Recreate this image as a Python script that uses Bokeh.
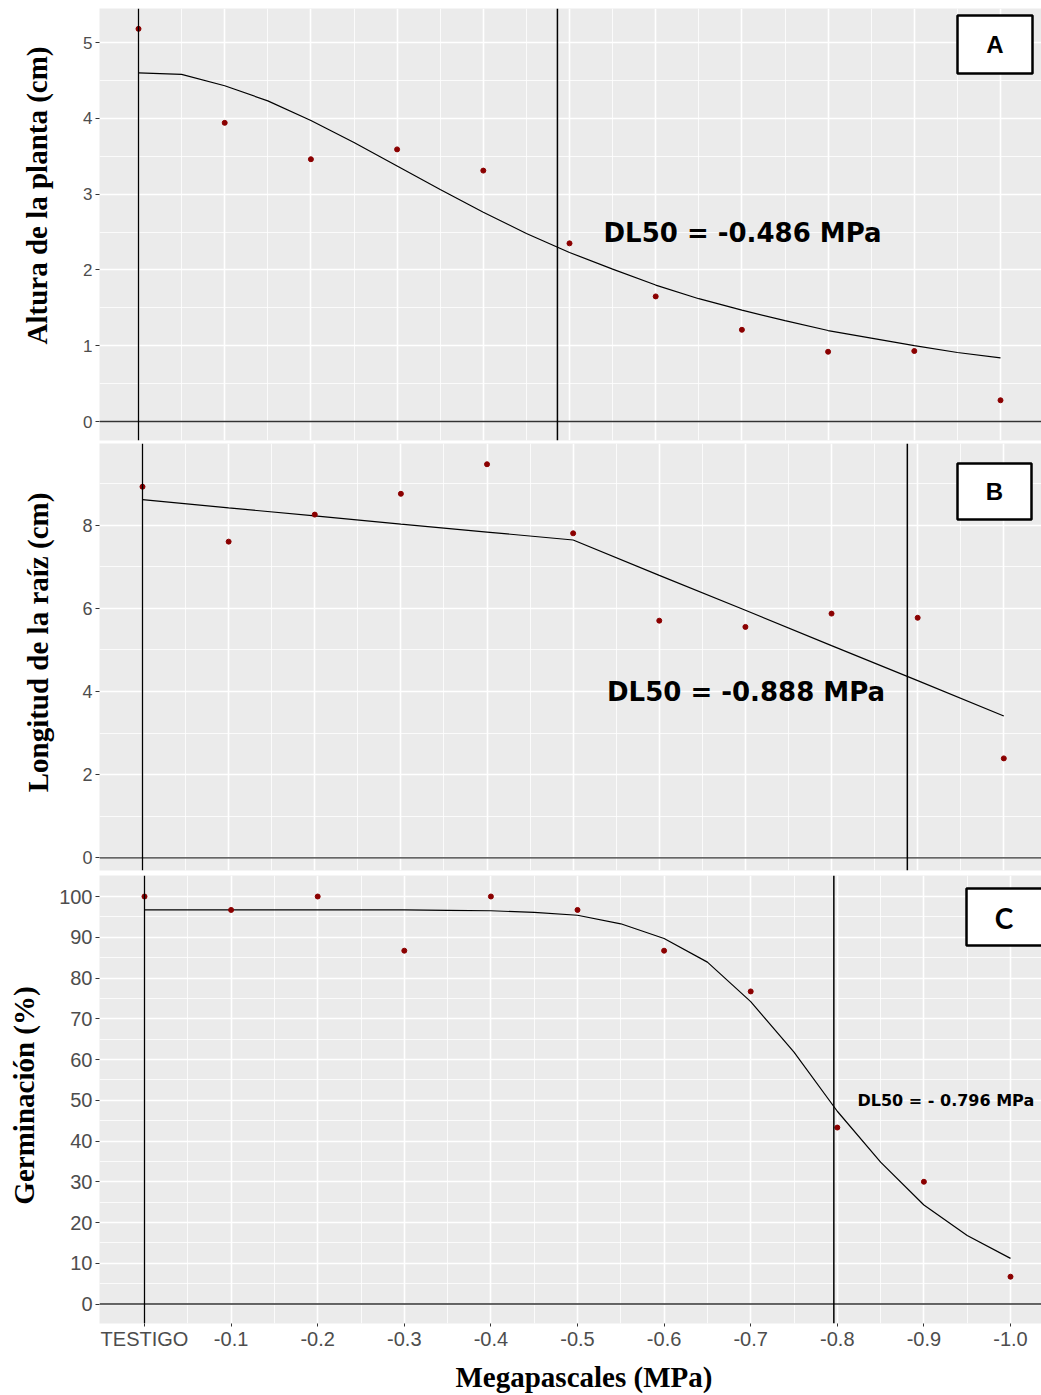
import math
from bokeh.plotting import figure
from bokeh.models import FixedTicker, Range1d, Label, BoxAnnotation, Span
from bokeh.layouts import column, row
from bokeh.embed import file_html
from bokeh.resources import INLINE

# ---------------- data ----------------
x_labels = ["TESTIGO", "-0.1", "-0.2", "-0.3", "-0.4", "-0.5",
            "-0.6", "-0.7", "-0.8", "-0.9", "-1.0"]
x_pos = [0, 1, 2, 3, 4, 5, 6, 7, 8, 9, 10]
fit_x = [0, 0.5, 1, 1.5, 2, 2.5, 3, 3.5, 4, 4.5, 5, 5.5, 6, 6.5, 7, 7.5,
         8, 8.5, 9, 9.5, 10]

altura = [5.18, 3.94, 3.46, 3.59, 3.31, 2.35, 1.65, 1.21, 0.92, 0.93, 0.28]
altura_fit = [4.60, 4.58, 4.43, 4.23, 3.97, 3.68, 3.37, 3.06, 2.76, 2.48, 2.23,
              2.01, 1.80, 1.62, 1.47, 1.33, 1.20, 1.10, 1.00, 0.91, 0.84]

raiz = [8.92, 7.60, 8.25, 8.75, 9.46, 7.80, 5.70, 5.55, 5.87, 5.77, 2.39]
raiz_fit = [8.61, 8.41, 8.22, 8.02, 7.83, 7.64, 6.79, 5.95, 5.10, 4.26, 3.41]

germ = [100, 96.7, 100, 86.7, 100, 96.7, 86.7, 76.7, 43.3, 30.0, 6.7]
germ_fit = [96.7, 96.7, 96.7, 96.7, 96.7, 96.7, 96.7, 96.6, 96.5, 96.1, 95.4,
            93.3, 89.7, 83.9, 74.2, 61.8, 47.3, 34.8, 24.3, 16.8, 11.2]

dl50 = [-0.486, -0.888, -0.796]
dl50_text = ["DL50 = -0.486 MPa", "DL50 = -0.888 MPa", "DL50 = - 0.796 MPa"]
letters = ["A", "B", "C"]
y_titles = ["Altura de la planta (cm)", "Longitud de la raíz (cm)", "Germinación (%)"]
x_title = "Megapascales (MPa)"

y_ticks_a = [0, 1, 2, 3, 4, 5]
y_minor_a = [0.5, 1.5, 2.5, 3.5, 4.5]
y_ticks_b = [0, 2, 4, 6, 8]
y_minor_b = [1, 3, 5, 7, 9]
y_ticks_c = [0, 10, 20, 30, 40, 50, 60, 70, 80, 90, 100]
y_minor_c = [5, 15, 25, 35, 45, 55, 65, 75, 85, 95]

# ---------------- styling / layout ----------------
BG = "#EBEBEB"
TICK_COL = "#4D4D4D"
PT_COL = "#8B0000"
PAGE_W = 1041
PAGE_H = 1394
LEFT_W = 56            # strip holding the rotated y titles
FRAME_LEFT = 99        # page x of the plotting frames
TITLE_FONT = "Liberation Serif"
XTITLE_TOP = 1352      # page y where the x-title strip starts


def make_panel(cfg):
    fig_top, fig_bottom = cfg["fig_top"], cfg["fig_bottom"]
    frame_top, frame_bottom = cfg["frame_top"], cfg["frame_bottom"]
    x0, xu, y0, yu = cfg["x0"], cfg["xu"], cfg["y0"], cfg["yu"]

    def px(v):
        return (v - x0) / xu

    def py(v):
        return (y0 - v) / yu

    p = figure(width=PAGE_W - LEFT_W, height=fig_bottom - fig_top,
               output_backend="svg", toolbar_location=None,
               x_range=Range1d(px(FRAME_LEFT), px(PAGE_W)),
               y_range=Range1d(py(frame_bottom), py(frame_top)),
               min_border_left=FRAME_LEFT - LEFT_W, min_border_right=0,
               min_border_top=frame_top - fig_top,
               min_border_bottom=fig_bottom - frame_bottom)
    p.background_fill_color = BG
    p.border_fill_color = "white"
    p.outline_line_color = None

    xt = FixedTicker(ticks=x_pos, minor_ticks=[v + 0.5 for v in x_pos])
    yt = FixedTicker(ticks=cfg["yticks"], minor_ticks=cfg["yminor"])
    p.xaxis.ticker = xt
    p.yaxis.ticker = yt
    p.xgrid.ticker = xt
    p.ygrid.ticker = yt
    for g in (p.xgrid, p.ygrid):
        g.grid_line_color = "white"
        g.grid_line_width = 1.6
        g.minor_grid_line_color = "white"
        g.minor_grid_line_width = 0.8

    for ax in (p.xaxis, p.yaxis):
        ax.axis_line_color = None
        ax.major_tick_line_color = "#333333"
        ax.major_tick_in = 0
        ax.major_tick_out = 4
        ax.minor_tick_line_color = None
        ax.major_label_text_color = TICK_COL
        ax.major_label_text_font = "Liberation Sans"
        ax.major_label_text_font_size = cfg["tick_size"]
        ax.major_label_standoff = 3
    p.xaxis.major_tick_out = 3
    p.xaxis.major_label_standoff = 0
    p.xaxis.major_label_overrides = {v: l for v, l in zip(x_pos, x_labels)}
    if not cfg["show_x"]:
        p.xaxis.visible = False

    # reference lines
    p.add_layout(Span(location=0, dimension="width", line_color="#333333",
                      line_width=1.3))
    p.add_layout(Span(location=0, dimension="height", line_color="black",
                      line_width=1.3))
    p.add_layout(Span(location=abs(cfg["dl50"]) * 10, dimension="height",
                      line_color="black", line_width=1.5))

    # fitted curve and observations
    p.line(cfg["fx"], cfg["fy"], line_color="black", line_width=1.2)
    p.scatter(x_pos, cfg["obs"], size=5, fill_color=PT_COL,
              line_color=PT_COL)

    # DL50 text
    p.add_layout(Label(x=px(cfg["dl_px"][0]), y=py(cfg["dl_px"][1]),
                       text=cfg["dl_text"], text_baseline="middle",
                       text_align="left", text_font="DejaVu Sans",
                       text_font_style="bold",
                       text_font_size=cfg["dl_size"], text_color="black"))

    # panel letter box
    bl, bt, br, bb = cfg["box"]
    p.add_layout(BoxAnnotation(left=px(bl), right=px(br), top=py(bt),
                               bottom=py(bb), fill_color="white",
                               fill_alpha=1.0, line_color="black",
                               line_alpha=1.0, line_width=2.5,
                               level="overlay"))
    p.add_layout(Label(x=px(cfg["letter_px"][0]), y=py(cfg["letter_px"][1]),
                       text=cfg["letter"], text_align="center",
                       text_baseline="middle", text_font=cfg["letter_font"],
                       text_font_style="bold",
                       text_font_size=cfg["letter_size"],
                       text_color="black", level="overlay"))
    return p


def blank_fig(width, height, xr, yr, border_left=0):
    f = figure(width=width, height=height, output_backend="svg",
               toolbar_location=None, x_axis_type=None, y_axis_type=None,
               x_range=Range1d(*xr), y_range=Range1d(*yr),
               min_border_left=border_left, min_border_right=0,
               min_border_top=0, min_border_bottom=0)
    f.grid.visible = False
    f.outline_line_color = None
    f.background_fill_color = "white"
    f.border_fill_color = "white"
    return f


cfgA = dict(fig_top=0, fig_bottom=443, frame_top=8, frame_bottom=440,
            x0=138, xu=86.2, y0=421, yu=75.8,
            yticks=y_ticks_a, yminor=y_minor_a, tick_size="17px",
            show_x=False, dl50=dl50[0], fx=fit_x, fy=altura_fit, obs=altura,
            dl_px=(603, 232.5), dl_text=dl50_text[0], dl_size="26px",
            box=(957, 15, 1032, 73), letter="A", letter_px=(994.5, 44),
            letter_font="Liberation Sans", letter_size="24px")

cfgB = dict(fig_top=443, fig_bottom=875, frame_top=443, frame_bottom=870,
            x0=142, xu=86.13, y0=857.3, yu=41.6,
            yticks=y_ticks_b, yminor=y_minor_b, tick_size="18px",
            show_x=False, dl50=dl50[1], fx=x_pos, fy=raiz_fit, obs=raiz,
            dl_px=(606.5, 691.5), dl_text=dl50_text[1], dl_size="26px",
            box=(957, 463, 1031, 519), letter="B", letter_px=(994, 491),
            letter_font="Liberation Sans", letter_size="24px")

cfgC = dict(fig_top=875, fig_bottom=XTITLE_TOP, frame_top=875,
            frame_bottom=1323, x0=144, xu=86.6, y0=1303.5, yu=4.075,
            yticks=y_ticks_c, yminor=y_minor_c, tick_size="20px",
            show_x=True, dl50=dl50[2], fx=fit_x, fy=germ_fit, obs=germ,
            dl_px=(857, 1100), dl_text=dl50_text[2], dl_size="16px",
            box=(966, 888, 1050, 945), letter="C", letter_px=(1003.5, 917),
            letter_font="Lato", letter_size="28px")

pA = make_panel(cfgA)
pB = make_panel(cfgB)
pC = make_panel(cfgC)

# strip below panel C with the x-axis title (coordinates = page pixels)
pX = blank_fig(PAGE_W - LEFT_W, PAGE_H - XTITLE_TOP,
               (FRAME_LEFT, PAGE_W), (PAGE_H, XTITLE_TOP),
               border_left=FRAME_LEFT - LEFT_W)
pX.add_layout(Label(x=455, y=1376, text=x_title, text_align="left",
                    text_baseline="middle", text_font=TITLE_FONT,
                    text_font_style="bold", text_font_size="29px",
                    text_color="black"))

# strip on the left with the rotated y-axis titles (page pixels)
pY = blank_fig(LEFT_W, PAGE_H, (0, LEFT_W), (PAGE_H, 0))
y_title_pos = [(36, 195), (37, 642), (23, 1095)]
for t, (tx, ty) in zip(y_titles, y_title_pos):
    pY.add_layout(Label(x=tx, y=ty, text=t, angle=math.pi / 2,
                        text_align="center", text_baseline="middle",
                        text_font=TITLE_FONT, text_font_style="bold",
                        text_font_size="29px", text_color="black"))

layout = row(pY, column(pA, pB, pC, pX, spacing=0), spacing=0)
open("out.html", "w").write(file_html(layout, INLINE))
